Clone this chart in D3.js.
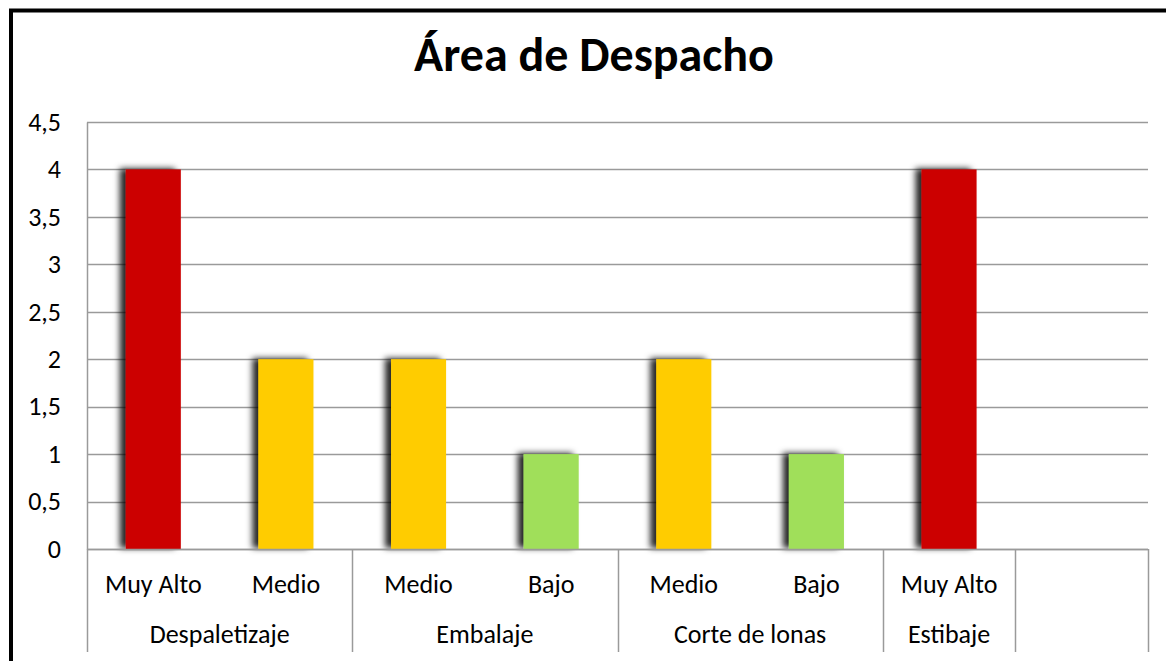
<!DOCTYPE html>
<html>
<head>
<meta charset="utf-8">
<script src="https://cdn.jsdelivr.net/npm/d3@7"></script>
<style>
  html, body { margin: 0; padding: 0; background: #fff; overflow: hidden; }
  svg { display: block; }
  text { font-family: Carlito, Lato, "Open Sans", sans-serif; fill: #000; }
</style>
</head>
<body>
<svg id="chart" width="1166" height="661"></svg>
<script>
// ---- data ----
const title = "Área de Despacho";
const groups = ["Despaletizaje", "Despaletizaje", "Embalaje", "Embalaje", "Corte de lonas", "Corte de lonas", "Estibaje", ""];
const levels = ["Muy Alto", "Medio", "Medio", "Bajo", "Medio", "Bajo", "Muy Alto", ""];
const values = [4, 2, 2, 1, 2, 1, 4, null];
const levelColors = { "Muy Alto": "#cc0404", "Medio": "#ffcc00", "Bajo": "#a0df5a" };
const yTicks = [0, 0.5, 1, 1.5, 2, 2.5, 3, 3.5, 4, 4.5];

// ---- layout ----
const svg = d3.select("#chart");
const plotLeft = 87, plotRight = 1148, plotTop = 122, plotBottom = 549;
const axisBottom = 652;
const fontSize = 26;

const defs = svg.append("defs");
const f = defs.append("filter").attr("id", "shadow")
  .attr("x", "-40%").attr("y", "-10%").attr("width", "160%").attr("height", "130%");
f.append("feDropShadow").attr("dx", -6).attr("dy", -1).attr("stdDeviation", 3)
  .attr("flood-color", "#000").attr("flood-opacity", 0.85);

// outer border
svg.append("rect").attr("x", 11).attr("y", 10.5).attr("width", 1300).attr("height", 800)
  .attr("fill", "none").attr("stroke", "#000").attr("stroke-width", 4);

// title
svg.append("text").attr("x", 594).attr("y", 71).attr("text-anchor", "middle")
  .style("font-size", "48px").style("font-weight", "bold").text(title);

const idx = d3.range(levels.length);
const x = d3.scaleBand().domain(idx).range([plotLeft, plotRight]).paddingInner(0).paddingOuter(0);
const y = d3.scaleLinear().domain([0, 4.5]).range([plotBottom, plotTop]);
const fmt = d => String(d).replace(".", ",");

// gridlines
svg.append("g").selectAll("line").data(yTicks).join("line")
  .attr("x1", plotLeft).attr("x2", plotRight)
  .attr("y1", d => Math.round(y(d)) + 0.5).attr("y2", d => Math.round(y(d)) + 0.5)
  .attr("stroke", "#9a9a9a").attr("stroke-width", 1.5);

// y axis
const yAxis = svg.append("g").attr("transform", `translate(${plotLeft},0)`)
  .call(d3.axisLeft(y).tickValues(yTicks).tickFormat(fmt).tickSize(0).tickPadding(26));
yAxis.select(".domain").attr("stroke", "#9a9a9a").attr("stroke-width", 1.5);
yAxis.selectAll("text").style("font-size", fontSize + "px").attr("fill", "#000");
yAxis.attr("font-family", null);

// bars
const barW = x.bandwidth() * 0.415;
svg.append("g").selectAll("rect").data(idx.filter(i => values[i] != null)).join("rect")
  .attr("x", i => x(i) + (x.bandwidth() - barW) / 2)
  .attr("y", i => y(values[i]))
  .attr("width", barW)
  .attr("height", i => y(0) - y(values[i]))
  .attr("fill", i => levelColors[levels[i]])
  .attr("filter", "url(#shadow)");

// x axis line
svg.append("line").attr("x1", plotLeft).attr("x2", plotRight).attr("y1", plotBottom + 0.5).attr("y2", plotBottom + 0.5)
  .attr("stroke", "#9a9a9a").attr("stroke-width", 1.5);

// group separators
const bounds = [0];
idx.forEach(i => { if (i > 0 && groups[i] !== groups[i - 1]) bounds.push(i); });
const sepX = bounds.map(i => x(i)).concat([plotRight]);
svg.append("g").selectAll("line").data(sepX).join("line")
  .attr("x1", d => Math.round(d) + 0.5).attr("x2", d => Math.round(d) + 0.5)
  .attr("y1", plotBottom).attr("y2", axisBottom)
  .attr("stroke", "#9a9a9a").attr("stroke-width", 1.5);

// level labels
svg.append("g").selectAll("text").data(idx).join("text")
  .attr("x", i => x(i) + x.bandwidth() / 2).attr("y", 593)
  .attr("text-anchor", "middle").style("font-size", fontSize + "px")
  .text(i => levels[i]);

// group labels
const groupSpans = bounds.map((b, k) => ({
  name: groups[b], x0: x(b), x1: k + 1 < bounds.length ? x(bounds[k + 1]) : plotRight
}));
svg.append("g").selectAll("text").data(groupSpans).join("text")
  .attr("x", d => (d.x0 + d.x1) / 2).attr("y", 643)
  .attr("text-anchor", "middle").style("font-size", fontSize + "px")
  .text(d => d.name);
</script>
</body>
</html>
